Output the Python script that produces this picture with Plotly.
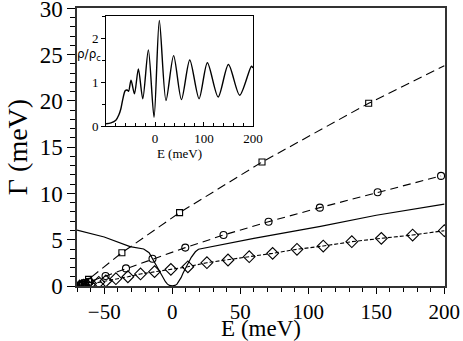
import plotly.graph_objects as go

# ---- main panel data ----
sq_line_E = [-67.5, -66, -64, -61.5, -37, 5.4, 66, 144.4, 200]
sq_line_G = [0.02, 0.15, 0.35, 0.72, 3.6, 7.93, 13.4, 19.75, 23.8]
sq_E = [-67.5, -66, -64, -61.5, -37, 5.4, 66, 144.4]
sq_G = [0.02, 0.15, 0.35, 0.72, 3.6, 7.93, 13.4, 19.75]

ci_E = [-67.5, -66, -64, -61, -49, -34, -14.5, 9.6, 37.7, 70.8, 108.5, 151, 197.6]
ci_G = [0.0, 0.08, 0.22, 0.45, 1.08, 1.9, 2.95, 4.15, 5.51, 6.95, 8.47, 10.13, 11.9]

di_E = [-68, -66.5, -65, -63, -60, -54, -48.8, -41.4, -32.6, -23.3, -13, -1, 11.5,
        25.5, 41, 56.6, 73.8, 91.7, 111, 132, 153.7, 176.7, 200]
di_G = [0.0, 0.04, 0.1, 0.18, 0.28, 0.4, 0.54, 0.79, 1.0, 1.3, 1.55, 1.8, 2.08,
        2.52, 2.81, 3.17, 3.53, 3.97, 4.32, 4.79, 5.15, 5.51, 5.98]

so_E = [-70, -50, -31, -21, -17, -14.5, -11, -8.8, -6.5, -5, -3.5, -2, 0, 2, 3.5, 5,
        6.5, 8, 10.8, 14, 17, 19.3, 60, 109, 150, 200]
so_G = [6.05, 5.3, 4.25, 4.0, 3.6, 2.95, 2.0, 1.37, 0.85, 0.46, 0.2, 0.06, 0.02, 0.06,
        0.2, 0.5, 0.9, 1.4, 2.27, 3.1, 3.7, 3.97, 5.15, 6.45, 7.65, 8.85]

# ---- inset data ----
in_E = [-100, -90, -80, -74, -70, -66, -61, -57, -54, -49, -42, -34, -25, -13.6, -2,
        8.8, 22.4, 38, 54, 71, 90, 107, 129, 150, 173, 197, 200]
in_rho = [0.05, 0.07, 0.13, 0.25, 0.38, 0.6, 0.8, 0.82, 0.79, 1.04, 0.73, 1.30, 0.62,
          1.73, 0.2, 2.4, 0.58, 1.6, 0.6, 1.5, 0.62, 1.44, 0.66, 1.4, 0.7, 1.36, 1.32]

FONT = "Liberation Serif, Times New Roman, serif"
BLK = "black"

fig = go.Figure()

fig.add_trace(go.Scatter(x=sq_line_E, y=sq_line_G, mode="lines",
                         line=dict(color=BLK, width=1.1, dash="9px,5px"),
                         showlegend=False, hoverinfo="skip"))
fig.add_trace(go.Scatter(x=sq_E, y=sq_G, mode="markers",
                         marker=dict(symbol="square-open", size=6, color=BLK,
                                     line=dict(width=1.1, color=BLK)),
                         showlegend=False))
fig.add_trace(go.Scatter(x=ci_E, y=ci_G, mode="lines+markers",
                         line=dict(color=BLK, width=1.1, dash="8px,5px"),
                         marker=dict(symbol="circle-open", size=7, color=BLK,
                                     line=dict(width=1.1, color=BLK)),
                         showlegend=False))
fig.add_trace(go.Scatter(x=di_E, y=di_G, mode="lines+markers",
                         line=dict(color=BLK, width=1.1, dash="4px,2px"),
                         marker=dict(symbol="diamond-open", size=9, color=BLK,
                                     line=dict(width=1.1, color=BLK)),
                         showlegend=False))
fig.add_trace(go.Scatter(x=so_E, y=so_G, mode="lines",
                         line=dict(color=BLK, width=1.2),
                         showlegend=False))

fig.add_trace(go.Scatter(x=in_E, y=in_rho, mode="lines", xaxis="x2", yaxis="y2",
                         line=dict(color=BLK, width=1.4, shape="spline", smoothing=0.8),
                         showlegend=False))

fig.update_layout(
    width=463, height=341,
    margin=dict(l=77, r=18, t=8, b=55),
    paper_bgcolor="white", plot_bgcolor="white",
    font=dict(family=FONT, color=BLK),
    xaxis=dict(range=[-70, 200.5], tickvals=[-50, 0, 50, 100, 150, 200],
               automargin=False, ticklabeloverflow="allow",
               ticks="outside", ticklen=6, tickwidth=1, tickcolor=BLK,
               minor=dict(dtick=10, tick0=0, ticks="outside", ticklen=4, tickcolor=BLK),
               showline=True, linecolor="#333", linewidth=1.5, mirror=True,
               showgrid=False, zeroline=False,
               tickfont=dict(size=21, family=FONT),
               title=dict(text="E (meV)", font=dict(size=23, family=FONT), standoff=5)),
    yaxis=dict(range=[0, 30.05], tickvals=[0, 5, 10, 15, 20, 25, 30],
               automargin=False, ticklabeloverflow="allow",
               ticks="outside", ticklen=8, tickwidth=1, tickcolor=BLK,
               minor=dict(dtick=1, ticks="outside", ticklen=5, tickcolor=BLK),
               showline=True, linecolor="#333", linewidth=1.5, mirror=True,
               showgrid=False, zeroline=False,
               tickfont=dict(size=23, family=FONT),
               title=dict(text="Γ (meV)", font=dict(size=28, family=FONT), standoff=4)),
    xaxis2=dict(domain=[0.079, 0.478], anchor="y2", range=[-100, 200],
                automargin=False, ticklabeloverflow="allow",
                tickvals=[0, 100, 200], ticks="inside", ticklen=4, tickcolor=BLK,
                minor=dict(dtick=20, tick0=0, ticks="inside", ticklen=3, tickcolor=BLK),
                showline=True, linecolor=BLK, linewidth=1, mirror=True,
                showgrid=False, zeroline=False,
                tickfont=dict(size=13, family=FONT),
                title=dict(text="E (meV)", font=dict(size=13, family=FONT), standoff=2)),
    yaxis2=dict(domain=[0.5755, 0.971], anchor="x2", range=[0, 2.5],
                automargin=False, ticklabeloverflow="allow",
                tickvals=[0, 1, 2], ticks="outside", ticklen=4, tickcolor=BLK,
                minor=dict(dtick=0.5, ticks="outside", ticklen=3, tickcolor=BLK),
                showline=True, linecolor=BLK, linewidth=1, mirror=True,
                showgrid=False, zeroline=False,
                tickfont=dict(size=13, family=FONT)),
)

fig.add_annotation(text="ρ/ρ<sub>c</sub>", xref="paper", yref="paper",
                   x=0.07, y=0.83, xanchor="right", yanchor="middle", showarrow=False,
                   font=dict(size=12, family="DejaVu Sans", color=BLK))

fig.write_html("out.html", config={"displayModeBar": False},
               post_script="document.body.style.margin='0';document.body.style.padding='0';")
